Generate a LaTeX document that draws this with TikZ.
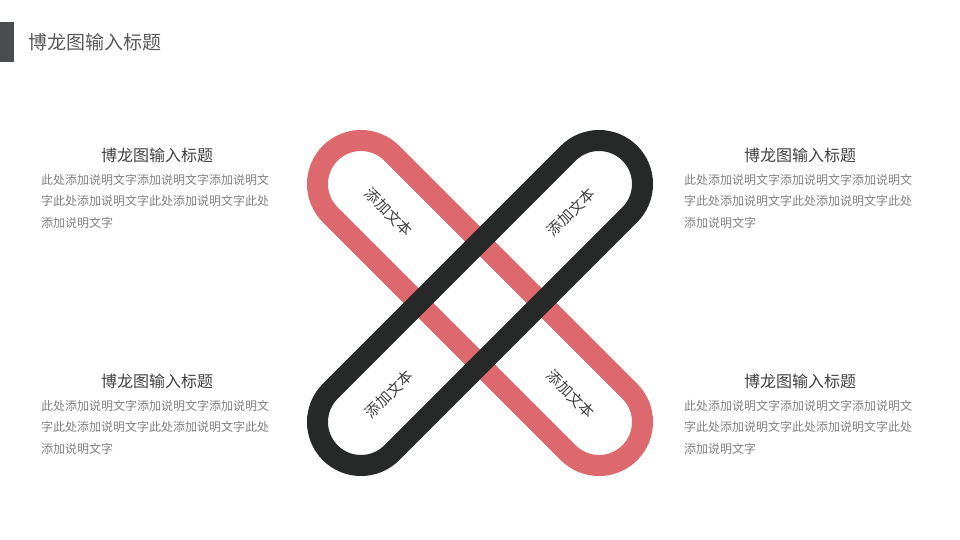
\documentclass[tikz,border=0pt]{standalone}
\usepackage{fontspec}
\setmainfont{Noto Sans CJK SC}
\definecolor{loopred}{HTML}{DD686D}
\definecolor{loopblack}{HTML}{272828}
\definecolor{bargray}{HTML}{4A4D50}
\definecolor{titlegray}{HTML}{595959}
\definecolor{headgray}{HTML}{404040}
\definecolor{bodygray}{HTML}{808080}
\begin{document}
\begin{tikzpicture}[x=1pt,y=-1pt]
  \useasboundingbox (0,0) rectangle (960,540);
  % title bar
  \fill[bargray] (0,22) rectangle (14,62);
  \node[anchor=west, inner sep=0, text=titlegray, font=\fontsize{19}{19}\selectfont] (title) at (28,42) {博龙图输入标题};
  % the two loops, black one on top
  \draw[loopred, line width=21pt, rounded corners=43.5pt, rotate around={-45:(480,303)}] (268.2,259.5) rectangle (691.8,346.5);
  \draw[loopblack, line width=21pt, rounded corners=43.5pt, rotate around={45:(480,303)}] (268.2,259.5) rectangle (691.8,346.5);
  % texts in the loop ends
  \foreach \x/\y/\r/\n in {389/212/-45/redtop, 571/212/45/blacktop, 389/394/45/blackbot, 571/394/-45/redbot}
  {	\node[rotate=\r, inner sep=0, text=headgray, font=\fontsize{15}{15}\selectfont] (\n) at (\x,\y) {添加文本};
  }
  % the four text blocks
  \foreach \hx/\hy/\bx/\n in {157/155/41/lt, 800/155/684/rt, 157/381/41/lb, 800/381/684/rb}
  {	\node[inner sep=0, text=headgray, font=\fontsize{16}{16}\selectfont] (\n-head) at (\hx,\hy) {博龙图输入标题};
    \node[anchor=north west, align=left, inner sep=0, text=bodygray, font=\fontsize{12}{21.5}\selectfont] (\n-body) at (\bx,\hy+19)
      {此处添加说明文字添加说明文字添加说明文\\字此处添加说明文字此处添加说明文字此处\\添加说明文字};
  }
\end{tikzpicture}
\end{document}
